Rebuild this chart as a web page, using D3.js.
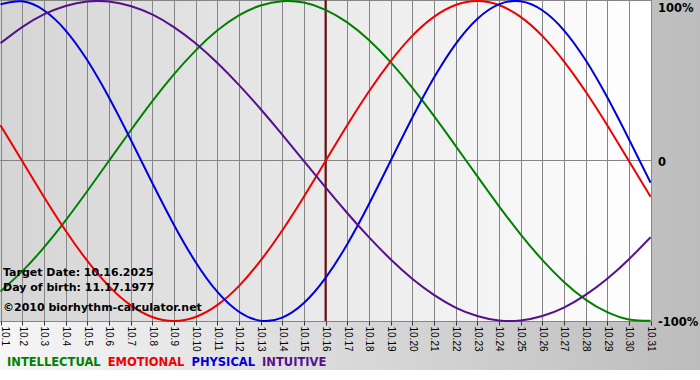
<!DOCTYPE html>
<html>
<head>
<meta charset="utf-8">
<script src="https://cdn.jsdelivr.net/npm/d3@7"></script>
<style>
  html, body { margin: 0; padding: 0; background: #ffffff; }
  svg { display: block; }
</style>
</head>
<body>
<svg id="chart" width="700" height="380"></svg>
<script>
// ---- data ----
const days = d3.range(1, 32); // October 1..31
const dayLabels = days.map(d => "10." + d);
const targetDay = 16;
const physical = [0.979, 0.998, 0.942, 0.817, 0.631, 0.398, 0.136, -0.136, -0.398, -0.631,
  -0.817, -0.942, -0.998, -0.979, -0.888, -0.731, -0.520, -0.270, 0, 0.270,
  0.520, 0.731, 0.888, 0.979, 0.998, 0.942, 0.817, 0.631, 0.398, 0.136, -0.136];
const emotional = [0.223, 0, -0.223, -0.434, -0.623, -0.782, -0.901, -0.975, -1, -0.975,
  -0.901, -0.782, -0.623, -0.434, -0.223, 0, 0.223, 0.434, 0.623, 0.782,
  0.901, 0.975, 1, 0.975, 0.901, 0.782, 0.623, 0.434, 0.223, 0, -0.223];
const intellectual = [-0.815, -0.690, -0.541, -0.372, -0.189, 0, 0.189, 0.372, 0.541, 0.690,
  0.815, 0.910, 0.972, 0.999, 0.990, 0.945, 0.866, 0.756, 0.618, 0.458,
  0.282, 0.095, -0.095, -0.282, -0.458, -0.618, -0.756, -0.866, -0.945, -0.990, -0.999];
const intuitive = [0.736, 0.837, 0.916, 0.969, 0.997, 0.997, 0.969, 0.916, 0.837, 0.736,
  0.614, 0.476, 0.325, 0.165, 0, -0.165, -0.325, -0.476, -0.614, -0.736,
  -0.837, -0.916, -0.969, -0.997, -0.997, -0.969, -0.916, -0.837, -0.736, -0.614, -0.476];
const seriesNames = ["INTELLECTUAL", "EMOTIONAL", "PHYSICAL", "INTUITIVE"];
const seriesColors = ["#008000", "#ee0000", "#0000dd", "#55118b"];
const seriesValues = [intellectual, emotional, physical, intuitive];
const yTickValues = [1, 0, -1];
const yTickLabels = ["100%", "0", "-100%"];
const infoLines = ["Target Date: 10.16.2025", "Day of birth: 11.17.1977", "\u00a92010 biorhythm-calculator.net"];

// ---- layout ----
const W = 700, H = 380;
const plot = { left: 0, right: 651, top: 0, bottom: 321 };
const svg = d3.select("#chart");
const defs = svg.append("defs");

const outerGrad = defs.append("linearGradient").attr("id", "outerGrad")
  .attr("x1", 0).attr("x2", 1).attr("y1", 0).attr("y2", 0);
outerGrad.append("stop").attr("offset", "0%").attr("stop-color", "#f6f6f6");
outerGrad.append("stop").attr("offset", "100%").attr("stop-color", "#bcbcbc");

const plotGrad = defs.append("linearGradient").attr("id", "plotGrad")
  .attr("x1", 0).attr("x2", 1).attr("y1", 0).attr("y2", 0);
plotGrad.append("stop").attr("offset", "0%").attr("stop-color", "#d5d5d5");
plotGrad.append("stop").attr("offset", "100%").attr("stop-color", "#ffffff");

defs.append("clipPath").attr("id", "plotClip").append("rect")
  .attr("x", plot.left).attr("y", plot.top)
  .attr("width", plot.right - plot.left).attr("height", plot.bottom - plot.top + 1);

svg.append("rect").attr("x", 0).attr("y", 0).attr("width", W).attr("height", 370)
  .attr("fill", "url(#outerGrad)");

const x = d3.scaleLinear().domain([1, 31]).range([0.5, 650.6]);
const y = d3.scaleLinear().domain([-1, 1]).range([321, 1]);

svg.append("rect").attr("x", plot.left).attr("y", plot.top)
  .attr("width", plot.right - plot.left).attr("height", plot.bottom - plot.top)
  .attr("fill", "url(#plotGrad)");

// vertical grid
svg.append("g").selectAll("line").data(days).join("line")
  .attr("x1", d => Math.round(x(d)) + 0.5).attr("x2", d => Math.round(x(d)) + 0.5)
  .attr("y1", plot.top).attr("y2", plot.bottom)
  .attr("stroke", "#858585").attr("stroke-width", 1);

// horizontal lines (top, zero)
svg.append("g").selectAll("line").data([1, 0]).join("line")
  .attr("x1", plot.left).attr("x2", plot.right)
  .attr("y1", d => Math.round(y(d)) - 0.5).attr("y2", d => Math.round(y(d)) - 0.5)
  .attr("stroke", "#858585").attr("stroke-width", 1);

// x axis
const xAxis = d3.axisBottom(x).tickValues(days).tickSize(4).tickFormat((d, i) => dayLabels[i]);
const gx = svg.append("g").attr("transform", `translate(0.5,${plot.bottom + 0.5})`).call(xAxis);
gx.select(".domain").attr("stroke", "#858585").attr("d", `M${plot.left - 0.5},0H${plot.right - 0.5}`);
gx.selectAll(".tick line").attr("stroke", "#333").attr("transform", "translate(-0.5,0)")
  .attr("x1", d => Math.round(x(d)) - x(d)).attr("x2", d => Math.round(x(d)) - x(d));
gx.selectAll(".tick text")
  .attr("font-family", "'Liberation Sans', Arial, sans-serif")
  .attr("font-size", "10px").attr("fill", "#000")
  .attr("text-anchor", "start").attr("dy", "0.35em")
  .attr("transform", d => `translate(${Math.max(x(d), 4.5) - x(d)},5) rotate(90)`)
  .attr("x", 0).attr("y", 0);

// target date line
svg.append("line")
  .attr("x1", x(targetDay)).attr("x2", x(targetDay))
  .attr("y1", plot.top).attr("y2", plot.bottom)
  .attr("stroke", "#7a0a0a").attr("stroke-width", 2);

// curves
const line = d3.line().x((d, i) => x(days[i])).y(d => y(d)).curve(d3.curveNatural);
const gLines = svg.append("g").attr("clip-path", "url(#plotClip)");
seriesValues.forEach((vals, k) => {
  gLines.append("path").attr("d", line(vals)).attr("fill", "none")
    .attr("stroke", seriesColors[k]).attr("stroke-width", 2);
});

// right labels
svg.append("g").selectAll("text").data(yTickValues).join("text")
  .attr("x", 658).attr("y", d => Math.max(y(d) + 5, 12))
  .attr("font-family", "'DejaVu Sans', Verdana, sans-serif")
  .attr("font-weight", "bold").attr("font-size", "11.5px").attr("fill", "#000")
  .text((d, i) => yTickLabels[i]);

// info text
svg.append("g").selectAll("text").data(infoLines).join("text")
  .attr("x", 3).attr("y", (d, i) => [276, 291, 311][i])
  .attr("font-family", "'DejaVu Sans', Verdana, sans-serif")
  .attr("font-weight", "bold").attr("font-size", "11px").attr("fill", "#000")
  .text(d => d);

// legend
let lx = 7;
seriesNames.forEach((name, k) => {
  const t = svg.append("text").attr("x", lx).attr("y", 366)
    .attr("font-family", "'DejaVu Sans', Verdana, sans-serif")
    .attr("font-weight", "bold").attr("font-size", "11.5px")
    .attr("fill", seriesColors[k]).text(name);
  lx += t.node().getComputedTextLength() + 7;
});
</script>
</body>
</html>
